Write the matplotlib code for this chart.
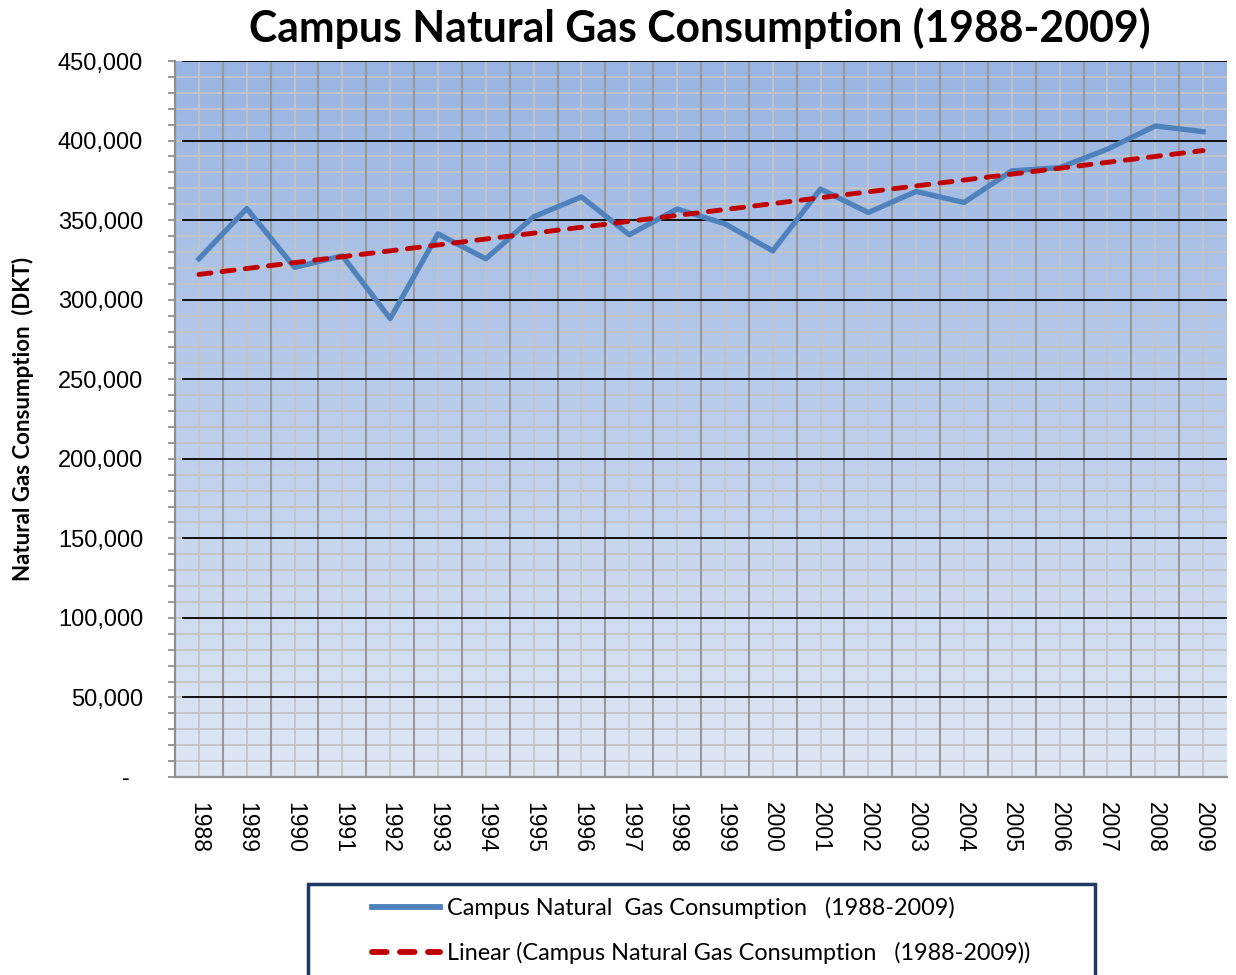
import matplotlib.pyplot as plt
import matplotlib.ticker as mticker
import matplotlib.colors as mcolors
import matplotlib.patches as mpatches
import numpy as np

# data
years = ['1988', '1989', '1990', '1991', '1992', '1993', '1994', '1995', '1996', '1997', '1998',
         '1999', '2000', '2001', '2002', '2003', '2004', '2005', '2006', '2007', '2008', '2009']
gas_dkt = [325700, 357300, 320300, 327600, 288100, 341400, 325700, 352100, 364600, 340800, 357000,
           347700, 330700, 369500, 354800, 368000, 361100, 381000, 383000, 394600, 409200, 405600]

series_label = 'Campus Natural  Gas Consumption   (1988-2009)'
trend_label = 'Linear (Campus Natural Gas Consumption   (1988-2009))'

x = np.arange(len(years))
slope, icept = np.polyfit(x, gas_dkt, 1)
trend = slope * x + icept

fig = plt.figure(figsize=(12.36, 9.75), dpi=100)
ax = fig.add_axes([0.1416, 0.2031, 0.8511, 0.7343])

# gradient background of the plot area
cmap = mcolors.LinearSegmentedColormap.from_list('bg', ['#dfe7f5', '#98b4e2'])
grad = np.linspace(0, 1, 256).reshape(-1, 1)
ax.imshow(grad, cmap=cmap, aspect='auto', origin='lower',
          extent=[0, 1, 0, 1], transform=ax.transAxes, zorder=0)

ax.set_xlim(-0.5, len(years) - 0.5)
ax.set_ylim(0, 450000)

# grid: light minor lines, black major ones
for v in np.arange(10000, 450000, 10000):
    ax.axhline(v, color='#c4c4c4', lw=1.3, zorder=1)
for k in x:
    ax.axvline(k, color='#c4c4c4', lw=1.3, zorder=1)
for k in np.arange(0.5, len(years) - 0.5, 1):
    ax.axvline(k, color='#989898', lw=1.5, zorder=1)
for v in np.arange(50000, 450001, 50000):
    ax.axhline(v, xmin=0.008, color='#111111', lw=1.4, zorder=2)

ax.plot(x, gas_dkt, color='#4f81bd', lw=3.8, zorder=4, label=series_label)
ax.plot(x, trend, color='#c00000', lw=3.5, ls=(0, (2.5, 2.3)), dash_capstyle='round',
        zorder=5, label=trend_label)

ax.set_xticks(x)
ax.set_xticklabels(years, rotation=-90, fontsize=16.5, family='Liberation Sans')
ax.tick_params(axis='x', length=0, pad=18)

ax.yaxis.set_major_locator(mticker.MultipleLocator(50000))
ax.yaxis.set_minor_locator(mticker.MultipleLocator(10000))
ax.yaxis.set_major_formatter(mticker.FuncFormatter(lambda v, p: '{:,.0f}'.format(v) if v > 0 else '-  '))
ax.tick_params(axis='y', which='both', length=5, color='#909090', width=1.3, pad=18)
for t in ax.get_yticklabels():
    t.set_fontsize(17)
    t.set_family('Liberation Sans')

for s in ['top', 'right']:
    ax.spines[s].set_visible(False)
for s in ['left', 'bottom']:
    ax.spines[s].set_color('#909090')
    ax.spines[s].set_linewidth(1.6)

ax.set_ylabel('Natural Gas Consumption  (DKT)', fontsize=16, fontweight='bold', family='Lato')
ax.yaxis.set_label_coords(-0.134, 0.5)

fig.suptitle('Campus Natural Gas Consumption (1988-2009)', x=0.566, y=0.992,
             fontsize=30.8, fontweight='bold', family='Lato')

# legend frame, cut off by the bottom edge like the reference
fig.patches.append(mpatches.Rectangle((308 / 1236, -0.01), 787 / 1236, (975 - 884) / 975 + 0.01,
                                      transform=fig.transFigure, facecolor='white',
                                      edgecolor='#1f3864', lw=2.5, zorder=0))
leg = fig.legend(loc='upper left', bbox_to_anchor=(372 / 1236, 1 - 897 / 975),
                 prop={'family': 'Lato', 'size': 16.8}, handlelength=2.9, handletextpad=0.3,
                 labelspacing=0.98, borderpad=0, borderaxespad=0, frameon=False)
for h in leg.get_lines():
    h.set_linewidth(4.2)

fig.savefig('out.png', dpi=100)
